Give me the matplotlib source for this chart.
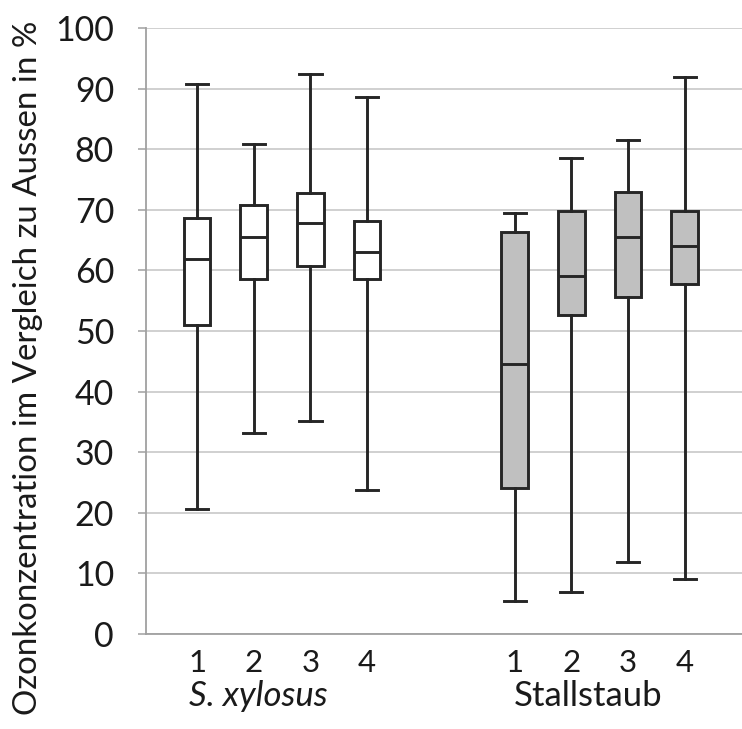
import matplotlib
matplotlib.use("Agg")
import matplotlib.pyplot as plt
from matplotlib import transforms

# ---- data ----
groups = ["S. xylosus", "Stallstaub"]
categories = ["1", "2", "3", "4"]
# S. xylosus
xyl_whislo = [20.6, 33.1, 35.2, 23.8]
xyl_q1 = [51.0, 58.6, 60.7, 58.6]
xyl_med = [61.9, 65.5, 67.9, 63.1]
xyl_q3 = [68.7, 70.8, 72.8, 68.2]
xyl_whishi = [90.7, 80.9, 92.4, 88.6]
# Stallstaub
sta_whislo = [5.5, 6.9, 11.9, 9.1]
sta_q1 = [24.1, 52.6, 55.6, 57.8]
sta_med = [44.5, 59.0, 65.5, 64.1]
sta_q3 = [66.3, 69.8, 73.0, 69.8]
sta_whishi = [69.4, 78.5, 81.5, 91.9]

ylabel = "Ozonkonzentration im Vergleich zu Aussen in %"
yticks = list(range(0, 101, 10))

FONT = "Lato"

fig = plt.figure(figsize=(7.42, 7.29), dpi=100)
ax = fig.add_axes([146 / 742, 1 - 634 / 729, 1 - 146 / 742, (634 - 28) / 729])

def stats(lo, q1, med, q3, hi):
    return [dict(whislo=a, q1=b, med=c, q3=d, whishi=e, fliers=[])
            for a, b, c, d, e in zip(lo, q1, med, q3, hi)]

pos_xyl = [1, 2, 3, 4]
pos_sta = [6.6, 7.6, 8.6, 9.6]
edge = "#262626"
lw = 2.1

for st, pos, fc in [(stats(xyl_whislo, xyl_q1, xyl_med, xyl_q3, xyl_whishi), pos_xyl, "white"),
                    (stats(sta_whislo, sta_q1, sta_med, sta_q3, sta_whishi), pos_sta, "#c0c0c0")]:
    ax.bxp(st, positions=pos, widths=0.47, capwidths=0.39, patch_artist=True,
           showfliers=False, manage_ticks=False,
           boxprops=dict(facecolor=fc, edgecolor=edge, linewidth=lw),
           whiskerprops=dict(color=edge, linewidth=lw),
           capprops=dict(color=edge, linewidth=lw),
           medianprops=dict(color=edge, linewidth=lw), zorder=3)

ax.set_xlim(0.1, 10.61)
ax.set_ylim(0, 100)
ax.set_yticks(yticks)
ax.set_yticklabels([str(v) for v in yticks], fontsize=24.5, family=FONT, color="#1a1a1a")
ax.yaxis.grid(True, color="#c4c4c4", linewidth=1.1, zorder=0)
ax.set_axisbelow(True)
ax.tick_params(axis="y", length=6, width=1.1, color="#a0a0a0", pad=17)

ax.set_xticks(pos_xyl + pos_sta)
ax.set_xticklabels(categories + categories, fontsize=22.5, family=FONT, color="#1a1a1a")
ax.tick_params(axis="x", length=0, pad=11)

for s in ["top", "right"]:
    ax.spines[s].set_visible(False)
for s in ["left", "bottom"]:
    ax.spines[s].set_color("#a0a0a0")
    ax.spines[s].set_linewidth(1.3)

trans = transforms.blended_transform_factory(ax.transData, fig.transFigure)
ax.text(2.08, 1 - 706 / 729, groups[0], transform=trans, ha="center", va="baseline",
        fontsize=25, family=FONT, style="italic", color="#1a1a1a")
ax.text(7.9, 1 - 706 / 729, groups[1], transform=trans, ha="center", va="baseline",
        fontsize=25, family=FONT, color="#1a1a1a")

fig.text(28 / 742, 1 - 368 / 729, ylabel, rotation=90, ha="center", va="center",
         fontsize=23.8, family=FONT, color="#1a1a1a")

fig.savefig("out.png", dpi=100)
